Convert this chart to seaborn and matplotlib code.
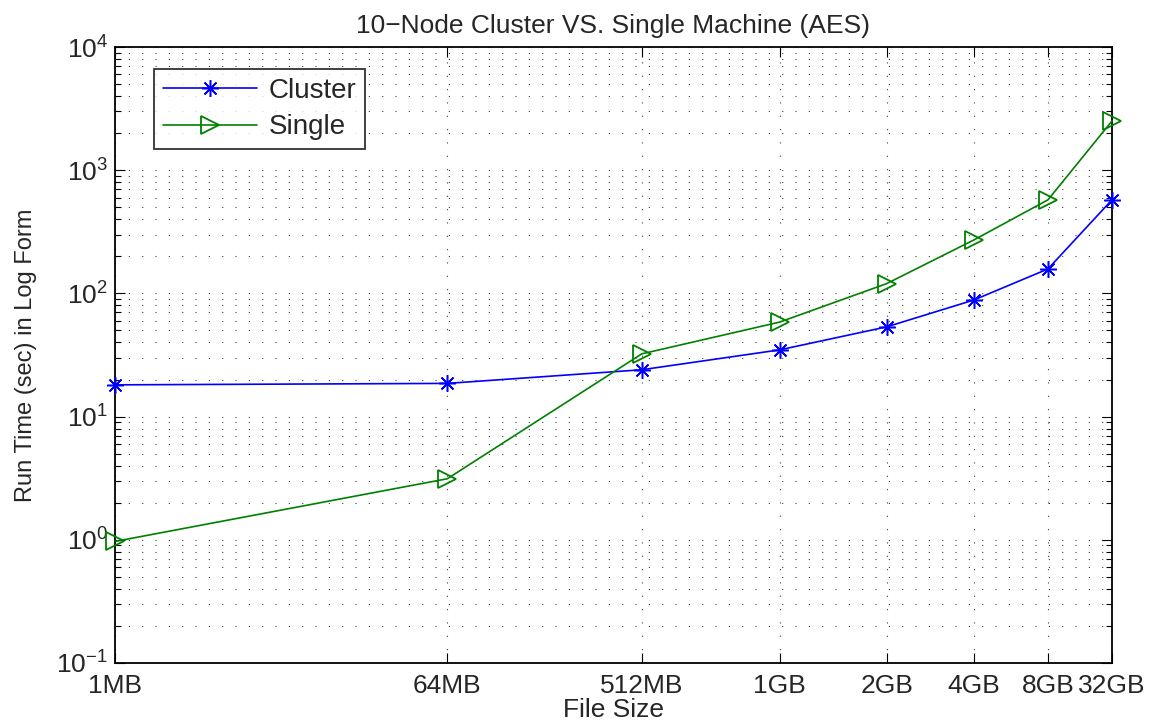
import matplotlib
matplotlib.use("Agg")
import matplotlib.pyplot as plt
import matplotlib.ticker as mticker
import seaborn as sns
import numpy as np
import pandas as pd

categories = ["1MB", "64MB", "512MB", "1GB", "2GB", "4GB", "8GB", "32GB"]
cluster = [18.1, 18.6, 24.0, 34.8, 53.5, 88.5, 158, 575]
single = [0.97, 3.13, 32.3, 58.5, 120, 272, 575, 2510]

sns.set_theme(style="white")
plt.rcParams["font.family"] = ["Liberation Sans", "DejaVu Sans"]
plt.rcParams["mathtext.fontset"] = "custom"
plt.rcParams["mathtext.rm"] = "Liberation Sans"
plt.rcParams["mathtext.it"] = "Liberation Sans"

fig = plt.figure(figsize=(11.58, 7.22), dpi=100)
ax = fig.add_axes([115 / 1158, 59 / 722, (1112 - 115) / 1158, (663 - 47) / 722])

pos = np.arange(1, len(categories) + 1)
df = pd.DataFrame({"pos": pos, "Cluster": cluster, "Single": single})

sns.lineplot(data=df, x="pos", y="Cluster", ax=ax, color=(0, 0, 1), lw=1.2,
             marker=(8, 2, 0), markersize=12, markeredgewidth=1.1,
             markeredgecolor=(0, 0, 1), label="Cluster", clip_on=False, zorder=5)
sns.lineplot(data=df, x="pos", y="Single", ax=ax, color=(0, 0.5, 0), lw=1.2,
             marker=">", markersize=13, markeredgewidth=1.3,
             markerfacecolor="none", markeredgecolor=(0, 0.5, 0), label="Single",
             clip_on=False, zorder=5)

ax.set_xscale("log")
ax.set_yscale("log")
ax.set_xlim(1, 8)
ax.set_ylim(0.1, 1e4)

ax.xaxis.set_major_locator(mticker.FixedLocator(pos))
ax.xaxis.set_major_formatter(mticker.FixedFormatter(categories))
ax.xaxis.set_minor_locator(mticker.NullLocator())
ax.yaxis.set_major_locator(mticker.LogLocator(base=10, numticks=10))
ax.yaxis.set_minor_locator(mticker.LogLocator(base=10, subs=np.arange(2, 10), numticks=20))
ax.yaxis.set_minor_formatter(mticker.NullFormatter())

ax.tick_params(which="both", direction="in", top=True, right=True, bottom=True, left=True,
               color="black")
ax.tick_params(which="major", length=7, width=0.8, labelsize=19, pad=5)
ax.tick_params(axis="x", which="major", pad=8)
ax.tick_params(which="minor", length=4, width=0.8)

for s in ax.spines.values():
    s.set_color("black")
    s.set_linewidth(1.3)
    s.set_visible(True)

grid_kw = dict(color="0.25", linewidth=0.8, linestyle=(0, (1, 11)))
ax.grid(True, which="major", axis="both", **grid_kw)
ax.grid(True, which="minor", axis="y", **grid_kw)

ax.set_title("10\u2212Node Cluster VS. Single Machine (AES)", fontsize=19, pad=10)
ax.set_xlabel("File Size", fontsize=19, labelpad=0)
ax.set_ylabel("Run Time (sec) in Log Form", fontsize=17, labelpad=14)

leg = ax.legend(loc="upper left", bbox_to_anchor=((154 - 115) / 997, (663 - 69) / 616),
                fontsize=20, frameon=True, fancybox=False, edgecolor="black",
                borderpad=0.32, handlelength=3.4, labelspacing=0.38, handletextpad=0.4,
                borderaxespad=0)
leg.get_frame().set_linewidth(1.3)

fig.savefig("out.png", dpi=100, facecolor="white")
